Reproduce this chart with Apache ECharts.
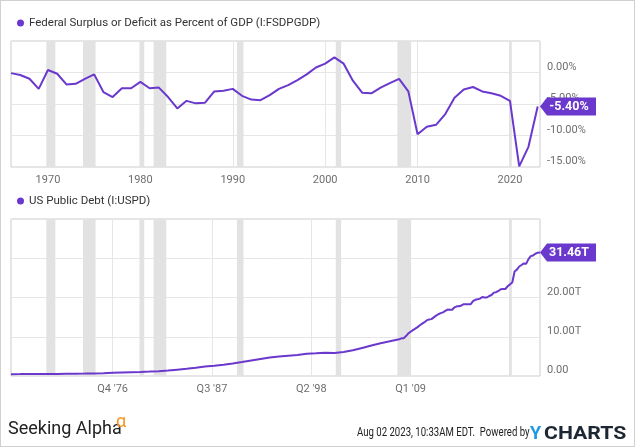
<!DOCTYPE html>
<html><head><meta charset="utf-8">
<script src="https://cdn.jsdelivr.net/npm/echarts@6/dist/echarts.min.js"></script>
<style>
html,body{margin:0;padding:0;background:#fff}
#c{position:absolute;left:0;top:0;width:635px;height:447px}
#b{position:absolute;left:0;top:0;width:635px;height:447px;box-sizing:border-box;border:1px solid #d0d0d0;pointer-events:none}
</style></head><body><div id="c"></div><div id="b"></div>
<script>
// ---- data ----
const pctTitle = 'Federal Surplus or Deficit as Percent of GDP (I:FSDPGDP)';
const debtTitle = 'US Public Debt (I:USPD)';
const years = [1966,1967,1968,1969,1970,1971,1972,1973,1974,1975,1976,1977,1978,1979,1980,1981,1982,1983,1984,1985,1986,1987,1988,1989,1990,1991,1992,1993,1994,1995,1996,1997,1998,1999,2000,2001,2002,2003,2004,2005,2006,2007,2008,2009,2010,2011,2012,2013,2014,2015,2016,2017,2018,2019,2020,2021,2022,2023];
const deficitPct = [-0.1,-0.4,-1.0,-2.6,0.4,-0.2,-1.9,-1.8,-1.0,-0.3,-3.1,-3.9,-2.5,-2.5,-1.5,-2.5,-2.4,-3.9,-5.7,-4.5,-4.9,-4.8,-3.0,-2.9,-2.6,-3.7,-4.3,-4.4,-3.6,-2.6,-2.0,-1.2,-0.3,0.8,1.4,2.4,1.4,-1.3,-3.2,-3.3,-2.4,-1.7,-1.0,-3.0,-9.8,-8.6,-8.3,-6.6,-4.0,-2.7,-2.3,-3.0,-3.3,-3.7,-4.5,-14.9,-11.8,-5.4];
const debtDates = [1966,1967,1968,1969,1970,1971,1972,1973,1974,1975,1976,1977,1978,1979,1980,1981,1982,1983,1984,1985,1986,1987,1988,1989,1990,1991,1992,1993,1994,1995,1996,1997,1998,1999,2000,2001,2002,2003,2004,2005,2006,2007,2008,
  2008.25,2008.5,2008.75,2009,2009.25,2009.5,2009.75,2010,2010.25,2010.5,2010.75,2011,2011.25,2011.5,2011.75,2012,2012.25,2012.5,2012.75,2013,2013.25,2013.5,2013.75,2014,2014.25,2014.5,2014.75,2015,2015.25,2015.5,2015.75,2016,2016.25,2016.5,2016.75,2017,2017.25,2017.5,2017.75,2018,2018.25,2018.5,2018.75,2019,2019.25,2019.5,2019.75,2020,2020.25,2020.5,2020.75,2021,2021.25,2021.5,2021.75,2022,2022.25,2022.5,2022.75,2023,2023.25];
const debtTrillions = [0.47,0.48,0.50,0.51,0.52,0.54,0.57,0.60,0.62,0.65,0.73,0.82,0.91,0.98,1.04,1.12,1.22,1.39,1.62,1.85,2.12,2.42,2.63,2.88,3.16,3.55,3.97,4.35,4.70,4.96,5.17,5.38,5.65,5.77,5.92,5.83,6.09,6.55,7.15,7.75,8.32,8.83,9.38,
  9.59,9.64,10.17,10.85,11.28,11.7,12.06,12.46,12.92,13.35,13.71,14.18,14.42,14.49,14.94,15.37,15.73,16.01,16.22,16.58,16.92,16.89,16.89,17.5,17.75,17.78,17.97,18.29,18.3,18.3,18.3,19.07,19.41,19.53,19.72,20.13,20.0,19.99,20.39,20.64,21.24,21.35,21.67,22.12,22.18,22.17,22.87,23.35,23.84,26.63,27.1,27.9,28.28,28.68,28.58,29.77,30.55,30.72,31.15,31.42,31.46];
const decadeTicks = [1970,1980,1990,2000,2010,2020];
const quarterTicks = [1977,1987.75,1998.5,2009.25,2020];
const quarterTickLabels = ["Q4 '76","Q3 '87","Q2 '98","Q1 '09",""];
const recessions = [[1969.82,1970.8],[1973.79,1975.15],[1979.9,1980.42],[1981.43,1982.8],[1990.45,1991.16],[2001.15,2001.73],[2007.82,2009.3],[2019.9,2020.2]];
const xMin = 1966, xMax = 2023.25;

// ---- styles ----
const PURPLE = '#6a38cc';
const FONT = 'Roboto';
const LABEL_COLOR = '#6e6e6e';
const GRID_LINE = '#e6e6e6';
const tagPath = 'path://M0,9L7,0L56,0L56,18L7,18Z';

function xAxisCfg(idx, ticks, fmt) {
  return {
    type: 'value', gridIndex: idx, min: xMin, max: xMax,
    axisLine: {show: false},
    axisTick: {show: false, customValues: ticks},
    splitLine: {show: true, lineStyle: {color: GRID_LINE, width: 1}},
    axisLabel: {customValues: ticks, formatter: fmt, color: LABEL_COLOR, fontSize: 11, fontFamily: FONT, margin: 8}
  };
}
function yAxisCfg(idx, min, max, interval, fmt) {
  return {
    type: 'value', gridIndex: idx, position: 'right', min: min, max: max, interval: interval,
    axisLine: {show: false}, axisTick: {show: false},
    splitLine: {show: true, lineStyle: {color: GRID_LINE, width: 1}},
    axisLabel: {formatter: fmt, color: LABEL_COLOR, fontSize: 11, fontFamily: FONT, margin: 7,
      verticalAlign: 'bottom', showMaxLabel: false}
  };
}
function recessionAreas() {
  return {
    silent: true,
    itemStyle: {color: '#e2e2e2'},
    data: recessions.map(r => [{xAxis: r[0]}, {xAxis: r[1]}])
  };
}
function tag(lastVal, text) {
  return {
    silent: true,
    symbol: tagPath, symbolSize: [56, 18], symbolOffset: [28, 0],
    itemStyle: {color: PURPLE},
    label: {show: true, position: 'inside', offset: [1, 0], color: '#fff', fontWeight: 'bold', fontSize: 12.5, fontFamily: FONT, formatter: text},
    data: [{coord: [xMax, lastVal], value: lastVal}]
  };
}
const legendText = {color: '#333', fontSize: 11.5, fontFamily: FONT};

const lastPct = deficitPct[deficitPct.length - 1];
const lastDebt = debtTrillions[debtTrillions.length - 1];

const option = {
  animation: false,
  textStyle: {fontFamily: FONT},
  legend: [
    {data: [pctTitle], left: 17, top: 17, padding: 0, icon: 'circle', itemWidth: 7, itemHeight: 7, textStyle: legendText},
    {data: [debtTitle], left: 17, top: 195, padding: 0, icon: 'circle', itemWidth: 7, itemHeight: 7, textStyle: legendText}
  ],
  grid: [
    {left: 11, right: 95, top: 41, height: 126, show: true, borderColor: '#cccccc', borderWidth: 1, backgroundColor: 'transparent'},
    {left: 11, right: 95, top: 219, height: 157, show: true, borderColor: '#cccccc', borderWidth: 1, backgroundColor: 'transparent'}
  ],
  xAxis: [
    xAxisCfg(0, decadeTicks, v => String(Math.round(v))),
    xAxisCfg(1, quarterTicks, v => { const i = quarterTicks.findIndex(t => Math.abs(t - v) < 1e-6); return i >= 0 ? quarterTickLabels[i] : ''; })
  ],
  yAxis: [
    yAxisCfg(0, -15, 5, 5, v => v.toFixed(2) + '%'),
    yAxisCfg(1, 0, 40, 10, v => v === 0 ? '0.00' : v.toFixed(2) + 'T')
  ],
  series: [
    {
      name: pctTitle, type: 'line', xAxisIndex: 0, yAxisIndex: 0,
      data: years.map((y, i) => [y, deficitPct[i]]),
      showSymbol: false, lineStyle: {color: PURPLE, width: 2}, itemStyle: {color: PURPLE},
      markArea: recessionAreas(),
      markPoint: tag(lastPct, lastPct.toFixed(2) + '%'),
      z: 3
    },
    {
      name: debtTitle, type: 'line', xAxisIndex: 1, yAxisIndex: 1,
      data: debtDates.map((d, i) => [d, debtTrillions[i]]),
      showSymbol: false, lineStyle: {color: PURPLE, width: 2}, itemStyle: {color: PURPLE},
      markArea: recessionAreas(),
      markPoint: tag(lastDebt, lastDebt.toFixed(2) + 'T'),
      z: 3
    }
  ],
  graphic: [
    {type: 'text', x: 8, y: 429, style: {text: 'Seeking Alpha', fontSize: 18, fontFamily: FONT, fill: '#222', verticalAlign: 'middle'}},
    {type: 'text', x: 116, y: 422, style: {text: 'α', fontSize: 18, fontFamily: FONT, fill: '#f7941d', verticalAlign: 'middle'}},
    {type: 'text', x: 357, y: 433, scaleX: 0.8, style: {text: 'Aug 02 2023, 10:33AM EDT.  Powered by', fontSize: 12, fontFamily: FONT, fill: '#222', verticalAlign: 'middle'}},
    {type: 'text', x: 530, y: 434, style: {text: 'Y', fontSize: 18, fontWeight: 'bold', fontFamily: FONT, fill: '#1b9be3', verticalAlign: 'middle'}},
    {type: 'text', x: 544, y: 434, scaleX: 1.18, style: {text: 'CHARTS', fontSize: 18, fontWeight: 'bold', fontFamily: FONT, fill: '#1d2733', verticalAlign: 'middle'}}
  ]
};
const chart = echarts.init(document.getElementById('c'), null, {renderer: 'canvas'});
chart.setOption(option);
</script>
</body></html>
